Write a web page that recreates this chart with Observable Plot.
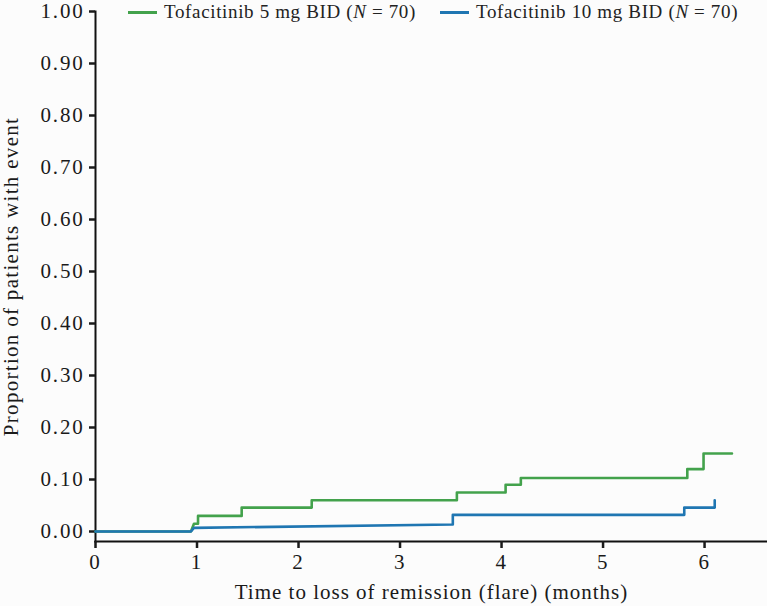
<!DOCTYPE html>
<html><head><meta charset="utf-8">
<script src="https://cdn.jsdelivr.net/npm/d3@7"></script>
<script src="https://cdn.jsdelivr.net/npm/@observablehq/plot@0.6"></script>
<style>
body{margin:0;background:#fcfcfc;font-family:"Liberation Serif",serif;}
#wrap{position:relative;width:767px;height:606px;}
#legend{position:absolute;top:0;left:0;width:767px;height:26px;font-size:19px;letter-spacing:0.65px;color:#222;}
.item{position:absolute;top:1px;display:flex;align-items:center;white-space:nowrap;}
.sw{display:inline-block;width:29px;height:3px;margin-right:7px;}
svg g[aria-label="y-axis tick label"] text, svg g[aria-label="x-axis tick label"] text{letter-spacing:1.8px;}
svg g[aria-label="x-axis label"] text{letter-spacing:1px;}
svg g[aria-label="y-axis label"] text{letter-spacing:1.3px;}
</style></head>
<body><div id="wrap"><div id="legend"></div></div>
<script>
const seriesNames = ["Tofacitinib 5 mg BID", "Tofacitinib 10 mg BID"];
const seriesN = [70, 70];
const seriesColors = ["#43a24c", "#1f76b2"];
// vertices of the cumulative-incidence curves (months, proportion)
const t5 =   [0, 0.94, 0.97, 1.01, 1.01, 1.44, 1.44, 2.13, 2.13, 3.56, 3.56, 4.04, 4.04, 4.19, 4.19, 5.83, 5.83, 5.99, 5.99, 6.27];
const p5 =   [0, 0,    0.015,0.015,0.03, 0.03, 0.046,0.046,0.06, 0.06, 0.075,0.075,0.09, 0.09, 0.103,0.103,0.12, 0.12, 0.15, 0.15];
const t10 =  [0, 0.94, 0.97, 3.52, 3.52, 5.80, 5.80, 6.10, 6.10];
const p10 =  [0, 0,    0.007,0.0135,0.032,0.032,0.046,0.046,0.06];
const xTicks = [0, 1, 2, 3, 4, 5, 6];
const yTicks = [0, 0.1, 0.2, 0.3, 0.4, 0.5, 0.6, 0.7, 0.8, 0.9, 1.0];

const rows = [
  ...t5.map((t, i) => ({t, p: p5[i], s: seriesNames[0]})),
  ...t10.map((t, i) => ({t, p: p10[i], s: seriesNames[1]}))
];

const chart = Plot.plot({
  width: 767, height: 606,
  marginLeft: 95, marginRight: 0, marginTop: 11, marginBottom: 65,
  insetBottom: 10,
  style: {fontFamily: "Liberation Serif, serif", fontSize: "20px", color: "#1a1a1a", background: "transparent"},
  x: {domain: [0, 6.62]},
  y: {domain: [0, 1]},
  color: {domain: seriesNames, range: seriesColors},
  marks: [
    Plot.frame({anchor: "left", stroke: "#111", strokeWidth: 2}),
    Plot.frame({anchor: "bottom", stroke: "#111", strokeWidth: 2}),
    Plot.axisY({ticks: yTicks, tickFormat: d3.format(".2f"), tickSize: 6, tickPadding: 5, strokeWidth: 2.5,
      label: "Proportion of patients with event", labelAnchor: "center", labelArrow: "none", labelOffset: 92, fontSize: 21}),
    Plot.axisX({ticks: xTicks, tickFormat: d3.format("d"), tickSize: 7, tickPadding: 6, strokeWidth: 2.5,
      label: "Time to loss of remission (flare) (months)", labelAnchor: "center", labelArrow: "none", labelOffset: 57, fontSize: 21}),
    Plot.line(rows, {x: "t", y: "p", z: "s", stroke: "s", strokeWidth: 2.6, curve: "linear"})
  ]
});
document.getElementById("wrap").appendChild(chart);

const legend = document.getElementById("legend");
const lefts = [128, 440];
seriesNames.forEach((n, i) => {
  const it = document.createElement("div");
  it.className = "item";
  it.style.left = lefts[i] + "px";
  it.innerHTML = `<span class="sw" style="background:${seriesColors[i]}"></span><span>${n} (<i>N</i> = ${seriesN[i]})</span>`;
  legend.appendChild(it);
});
</script></body></html>
